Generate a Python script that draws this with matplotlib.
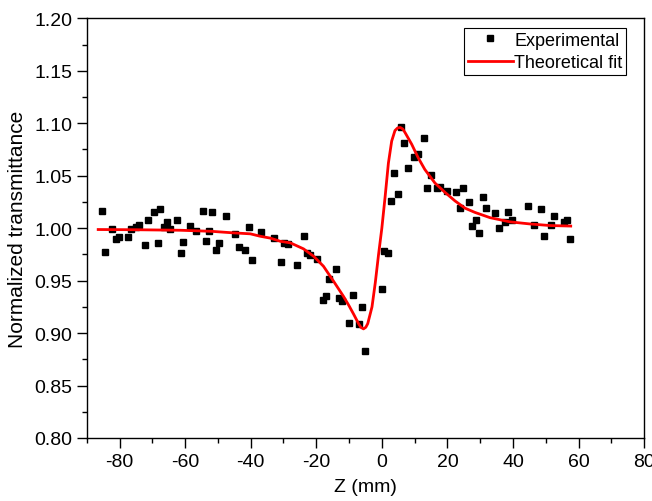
import matplotlib
matplotlib.use("Agg")
import matplotlib.pyplot as plt
from matplotlib.ticker import MultipleLocator

plt.rcParams["font.family"] = ["Liberation Sans", "DejaVu Sans"]
plt.rcParams["axes.unicode_minus"] = False

# Experimental points (Z in mm, normalized transmittance)
z_exp = [-85.3, -84.3, -82.2, -81.2, -80.2, -77.4, -76.4, -75.1, -74.2, -72.3,
         -71.4, -69.4, -68.4, -67.5, -66.5, -65.5, -64.5, -62.6, -61.4, -60.5,
         -58.5, -56.6, -54.6, -53.6, -52.6, -51.7, -50.6, -49.6, -47.6, -44.8,
         -43.7, -41.7, -40.6, -39.7, -36.8, -32.8, -30.8, -29.8, -28.6, -25.8,
         -23.8, -22.8, -21.8, -19.9, -17.9, -17.0, -16.1, -13.9, -13.2, -12.2,
         -10.1, -8.8, -6.9, -6.1, -5.0,
         -0.1, 0.8, 1.8, 2.8, 3.8, 4.8, 5.9, 6.9, 7.9, 9.8,
         11.0, 12.9, 13.8, 14.9, 16.8, 17.8, 19.8, 22.7, 23.8, 24.7,
         26.7, 27.6, 28.6, 29.7, 30.8, 31.7, 34.6, 35.6, 37.6, 38.6,
         39.6, 44.6, 46.5, 48.4, 49.4, 51.5, 52.5, 55.4, 56.4, 57.4]
t_exp = [1.016, 0.977, 0.999, 0.990, 0.992, 0.992, 0.999, 1.001, 1.003, 0.984,
         1.008, 1.015, 0.986, 1.018, 1.001, 1.006, 0.999, 1.008, 0.976, 0.987,
         1.002, 0.997, 1.016, 0.988, 0.997, 1.015, 0.979, 0.986, 1.012, 0.994,
         0.982, 0.979, 1.001, 0.970, 0.996, 0.991, 0.968, 0.986, 0.985, 0.965,
         0.993, 0.976, 0.974, 0.971, 0.932, 0.935, 0.952, 0.961, 0.933, 0.931,
         0.910, 0.936, 0.909, 0.925, 0.883,
         0.942, 0.978, 0.976, 1.026, 1.053, 1.033, 1.096, 1.081, 1.057, 1.068,
         1.071, 1.086, 1.038, 1.051, 1.038, 1.039, 1.035, 1.034, 1.019, 1.038,
         1.025, 1.002, 1.008, 0.995, 1.030, 1.019, 1.014, 1.000, 1.006, 1.015,
         1.008, 1.021, 1.003, 1.018, 0.993, 1.003, 1.012, 1.006, 1.008, 0.990]

# Theoretical fit curve
z_fit = [-86.5, -75.0, -61.4, -52.0, -45.2, -40.1, -37.1, -34.0, -31.0, -27.9,
         -23.9, -20.8, -17.8, -14.7, -11.7, -10.0, -8.6, -7.1, -6.4, -5.6,
         -4.9, -4.3, -3.0, -2.0, -1.0, 0.0, 1.0, 2.0, 3.0, 4.0,
         4.8, 5.6, 6.4, 7.1, 9.1, 11.1, 13.1, 16.2, 19.3, 22.3,
         25.4, 28.4, 33.0, 39.1, 45.2, 51.3, 57.6]
t_fit = [0.9987, 0.9985, 0.9980, 0.9970, 0.9955, 0.9946, 0.9923, 0.9905, 0.9875, 0.9860,
         0.9803, 0.9732, 0.9637, 0.9493, 0.9350, 0.9260, 0.9180, 0.9090, 0.9055, 0.9040,
         0.9055, 0.9090, 0.9250, 0.9480, 0.9750, 1.0000, 1.0300, 1.0620, 1.0830, 1.0930,
         1.0955, 1.0960, 1.0945, 1.0910, 1.0800, 1.0670, 1.0560, 1.0430, 1.0340, 1.0260,
         1.0190, 1.0150, 1.0100, 1.0060, 1.0040, 1.0025, 1.0020]

fig = plt.figure(figsize=(6.52, 5.02), dpi=100)
ax = fig.add_axes([0.133, 0.1255, 0.855, 0.836])

ax.plot(z_exp, t_exp, linestyle="none", marker="s", markersize=4.5,
        color="black", label="Experimental")
ax.plot(z_fit, t_fit, color="#ff0000", linewidth=2.0, label="Theoretical fit")

ax.set_xlim(-90, 80)
ax.set_ylim(0.80, 1.20)
ax.xaxis.set_major_locator(MultipleLocator(20))
ax.xaxis.set_minor_locator(MultipleLocator(10))
ax.yaxis.set_major_locator(MultipleLocator(0.05))
ax.yaxis.set_minor_locator(MultipleLocator(0.025))
ax.yaxis.set_major_formatter(plt.FormatStrFormatter("%.2f"))
ax.tick_params(which="major", direction="out", length=7, width=1.0,
               labelsize=14, top=False, right=False)
ax.tick_params(which="minor", direction="out", length=3.5, width=1.0,
               top=False, right=False)
for sp in ax.spines.values():
    sp.set_linewidth(1.0)

ax.set_xlabel("Z (mm)", fontsize=14, labelpad=6)
ax.set_ylabel("Normalized transmittance", fontsize=15, labelpad=5)

leg = ax.legend(loc="upper right", bbox_to_anchor=(0.968, 0.977), borderaxespad=0,
                fontsize=13, numpoints=1, handlelength=2.5, handletextpad=0.1,
                labelspacing=0.3, borderpad=0.2, fancybox=False, framealpha=1)
leg.get_frame().set_edgecolor("black")
leg.get_frame().set_linewidth(0.8)

fig.savefig("out.png", dpi=100)
